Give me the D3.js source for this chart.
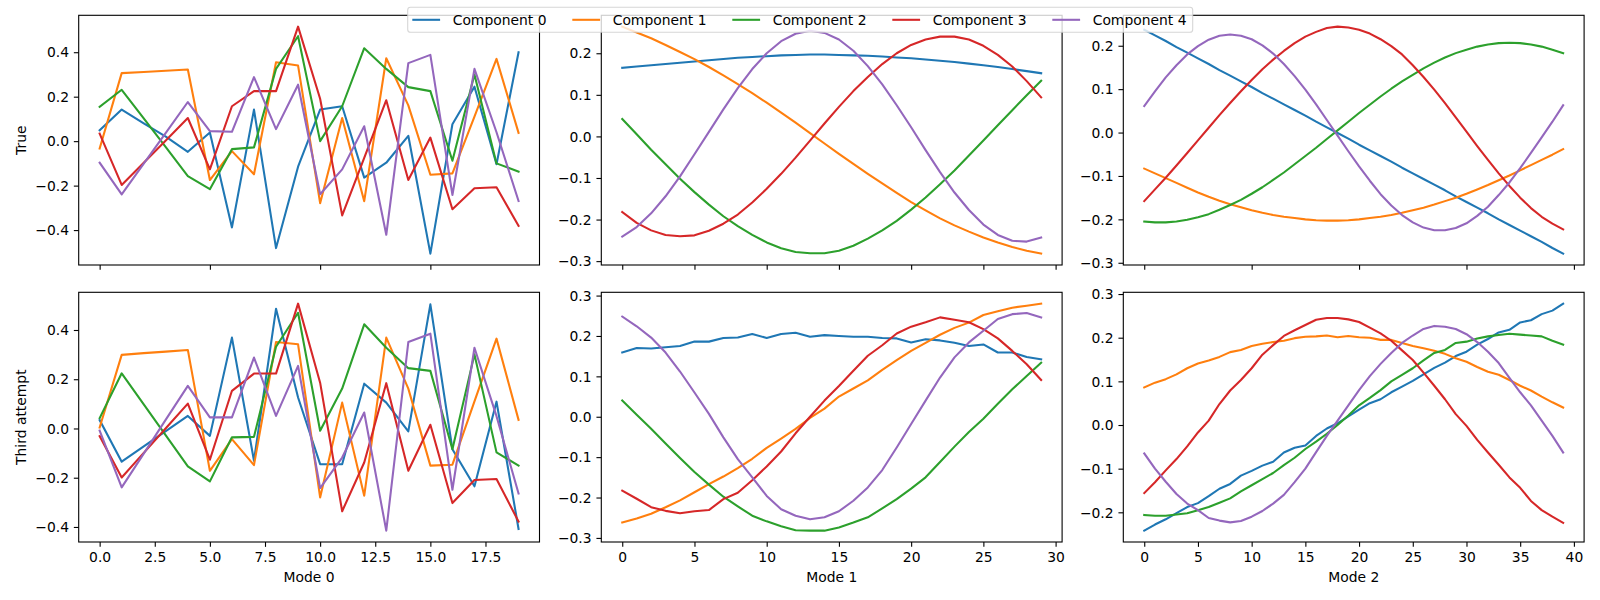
<!DOCTYPE html>
<html>
<head>
<meta charset="utf-8">
<script src="https://d3js.org/d3.v7.min.js"></script>
<style>
  body { margin: 0; background: #fff; }
  svg { display: block; }
</style>
</head>
<body>
<svg id="chart" width="1600" height="600"></svg>
<script>
const components = ["Component 0", "Component 1", "Component 2", "Component 3", "Component 4"];
const colors = ["#1f77b4", "#ff7f0e", "#2ca02c", "#d62728", "#9467bd"];
const rowLabels = ["True", "Third attempt"];
const colLabels = ["Mode 0", "Mode 1", "Mode 2"];

// one list per component
const trueMode0 = [
  [0.049, 0.142, 0.08, 0.02, -0.048, 0.039, -0.388, 0.142, -0.481, -0.115, 0.142, 0.157, -0.164, -0.097, 0.024, -0.506, 0.076, 0.245, -0.104, 0.400],
  [-0.033, 0.306, 0.311, 0.317, 0.322, -0.175, -0.045, -0.149, 0.355, 0.340, -0.279, 0.104, -0.270, 0.373, 0.161, -0.151, -0.145, 0.11, 0.370, 0.037],
  [0.154, 0.231, 0.102, -0.027, -0.157, -0.216, -0.036, -0.028, 0.325, 0.472, 0.0, 0.157, 0.418, 0.325, 0.243, 0.225, -0.088, 0.300, -0.100, -0.137],
  [0.034, -0.197, -0.097, 0.003, 0.104, -0.127, 0.157, 0.225, 0.225, 0.515, 0.191, -0.334, -0.075, 0.184, -0.175, 0.016, -0.306, -0.212, -0.207, -0.381],
  [-0.097, -0.239, -0.101, 0.037, 0.176, 0.045, 0.042, 0.288, 0.054, 0.254, -0.239, -0.127, 0.067, -0.421, 0.351, 0.388, -0.242, 0.325, 0.04, -0.269]
];
const thirdMode0 = [
  [0.034, -0.135, -0.073, -0.011, 0.051, -0.030, 0.369, -0.131, 0.486, 0.126, -0.145, -0.145, 0.182, 0.105, -0.012, 0.504, -0.084, -0.235, 0.109, -0.408],
  [0.004, 0.299, 0.306, 0.312, 0.319, -0.172, -0.043, -0.149, 0.351, 0.342, -0.280, 0.105, -0.273, 0.369, 0.162, -0.151, -0.147, 0.11, 0.365, 0.035],
  [0.042, 0.224, 0.098, -0.028, -0.154, -0.215, -0.036, -0.034, 0.332, 0.470, -0.009, 0.162, 0.423, 0.328, 0.245, 0.234, -0.084, 0.301, -0.097, -0.151],
  [-0.031, -0.199, -0.099, 0.001, 0.101, -0.127, 0.153, 0.223, 0.223, 0.507, 0.186, -0.336, -0.138, 0.184, -0.172, 0.015, -0.303, -0.209, -0.205, -0.378],
  [-0.009, -0.239, -0.102, 0.036, 0.173, 0.045, 0.045, 0.288, 0.051, 0.254, -0.242, -0.118, 0.065, -0.415, 0.351, 0.385, -0.249, 0.328, 0.05, -0.264]
];
const trueMode1 = [
  [0.165, 0.168, 0.171, 0.174, 0.177, 0.180, 0.183, 0.186, 0.189, 0.191, 0.193, 0.195, 0.196, 0.197, 0.197, 0.196, 0.195, 0.194, 0.192, 0.190, 0.188, 0.185, 0.182, 0.179, 0.175, 0.171, 0.167, 0.162, 0.157, 0.152],
  [0.264, 0.250, 0.236, 0.220, 0.203, 0.186, 0.167, 0.147, 0.126, 0.104, 0.081, 0.057, 0.033, 0.008, -0.017, -0.042, -0.066, -0.090, -0.113, -0.136, -0.158, -0.178, -0.197, -0.214, -0.229, -0.243, -0.255, -0.266, -0.275, -0.282],
  [0.042, 0.005, -0.032, -0.067, -0.102, -0.134, -0.164, -0.192, -0.216, -0.237, -0.255, -0.269, -0.278, -0.281, -0.281, -0.275, -0.263, -0.246, -0.226, -0.203, -0.176, -0.147, -0.115, -0.082, -0.046, -0.010, 0.027, 0.063, 0.099, 0.134],
  [-0.182, -0.208, -0.226, -0.237, -0.240, -0.238, -0.227, -0.210, -0.188, -0.159, -0.126, -0.090, -0.051, -0.010, 0.031, 0.071, 0.109, 0.143, 0.174, 0.200, 0.220, 0.233, 0.240, 0.240, 0.233, 0.218, 0.196, 0.168, 0.133, 0.094],
  [-0.241, -0.218, -0.185, -0.144, -0.096, -0.043, 0.011, 0.065, 0.116, 0.162, 0.200, 0.229, 0.247, 0.254, 0.249, 0.233, 0.206, 0.169, 0.125, 0.075, 0.022, -0.033, -0.086, -0.135, -0.177, -0.212, -0.237, -0.251, -0.253, -0.243]
];
const thirdMode1 = [
  [0.159, 0.170, 0.169, 0.172, 0.175, 0.186, 0.186, 0.195, 0.196, 0.205, 0.195, 0.205, 0.208, 0.198, 0.202, 0.200, 0.198, 0.198, 0.195, 0.194, 0.184, 0.192, 0.189, 0.183, 0.175, 0.179, 0.159, 0.159, 0.148, 0.142],
  [-0.262, -0.252, -0.240, -0.224, -0.207, -0.187, -0.167, -0.148, -0.127, -0.104, -0.077, -0.054, -0.030, -0.003, 0.020, 0.050, 0.070, 0.090, 0.116, 0.140, 0.163, 0.183, 0.203, 0.220, 0.233, 0.252, 0.261, 0.270, 0.275, 0.280],
  [0.040, 0.005, -0.030, -0.066, -0.102, -0.137, -0.168, -0.198, -0.222, -0.245, -0.259, -0.271, -0.281, -0.282, -0.282, -0.274, -0.262, -0.249, -0.227, -0.204, -0.178, -0.150, -0.112, -0.074, -0.038, -0.005, 0.032, 0.068, 0.101, 0.134],
  [-0.183, -0.203, -0.224, -0.233, -0.239, -0.234, -0.231, -0.204, -0.188, -0.157, -0.123, -0.086, -0.041, 0.000, 0.040, 0.076, 0.114, 0.151, 0.177, 0.206, 0.223, 0.234, 0.246, 0.240, 0.234, 0.217, 0.194, 0.163, 0.130, 0.091],
  [0.248, 0.224, 0.196, 0.159, 0.112, 0.060, 0.007, -0.051, -0.105, -0.150, -0.196, -0.229, -0.245, -0.254, -0.249, -0.234, -0.208, -0.175, -0.132, -0.076, -0.018, 0.040, 0.097, 0.147, 0.184, 0.213, 0.242, 0.254, 0.257, 0.246]
];
const trueMode2 = [
  [0.237, 0.224, 0.211, 0.197, 0.184, 0.171, 0.158, 0.144, 0.131, 0.118, 0.105, 0.091, 0.078, 0.065, 0.052, 0.039, 0.025, 0.012, -0.001, -0.014, -0.028, -0.041, -0.054, -0.067, -0.081, -0.094, -0.107, -0.120, -0.133, -0.147, -0.160, -0.173, -0.186, -0.200, -0.213, -0.226, -0.239, -0.252, -0.266, -0.279],
  [-0.083, -0.094, -0.105, -0.116, -0.127, -0.138, -0.148, -0.157, -0.165, -0.172, -0.179, -0.185, -0.190, -0.194, -0.197, -0.200, -0.202, -0.203, -0.203, -0.202, -0.200, -0.197, -0.194, -0.190, -0.185, -0.179, -0.173, -0.166, -0.158, -0.150, -0.141, -0.131, -0.121, -0.110, -0.099, -0.087, -0.075, -0.063, -0.051, -0.038],
  [-0.205, -0.207, -0.207, -0.205, -0.201, -0.195, -0.188, -0.178, -0.167, -0.155, -0.141, -0.126, -0.109, -0.092, -0.073, -0.054, -0.035, -0.015, 0.005, 0.025, 0.045, 0.064, 0.083, 0.101, 0.118, 0.133, 0.148, 0.161, 0.173, 0.183, 0.191, 0.198, 0.203, 0.206, 0.207, 0.206, 0.203, 0.198, 0.191, 0.183],
  [-0.158, -0.131, -0.104, -0.076, -0.047, -0.018, 0.011, 0.040, 0.068, 0.095, 0.121, 0.146, 0.168, 0.188, 0.206, 0.221, 0.232, 0.241, 0.244, 0.242, 0.237, 0.228, 0.215, 0.199, 0.180, 0.155, 0.128, 0.099, 0.068, 0.035, 0.002, -0.031, -0.063, -0.094, -0.123, -0.150, -0.174, -0.194, -0.210, -0.223],
  [0.061, 0.095, 0.127, 0.155, 0.180, 0.199, 0.214, 0.223, 0.226, 0.223, 0.215, 0.201, 0.182, 0.158, 0.130, 0.099, 0.065, 0.029, -0.007, -0.043, -0.078, -0.111, -0.142, -0.168, -0.190, -0.207, -0.219, -0.225, -0.225, -0.220, -0.209, -0.192, -0.171, -0.144, -0.115, -0.082, -0.047, -0.011, 0.025, 0.063]
];
const thirdMode2 = [
  [-0.242, -0.228, -0.216, -0.202, -0.188, -0.179, -0.163, -0.146, -0.135, -0.116, -0.105, -0.093, -0.084, -0.063, -0.052, -0.047, -0.025, -0.008, 0.004, 0.020, 0.035, 0.050, 0.059, 0.075, 0.088, 0.101, 0.116, 0.131, 0.143, 0.158, 0.168, 0.184, 0.197, 0.212, 0.218, 0.235, 0.240, 0.254, 0.262, 0.278],
  [0.086, 0.097, 0.105, 0.116, 0.130, 0.141, 0.148, 0.156, 0.167, 0.172, 0.181, 0.186, 0.190, 0.193, 0.199, 0.202, 0.203, 0.205, 0.201, 0.204, 0.201, 0.200, 0.195, 0.195, 0.188, 0.181, 0.176, 0.170, 0.163, 0.153, 0.145, 0.133, 0.122, 0.115, 0.103, 0.090, 0.079, 0.065, 0.052, 0.040],
  [-0.206, -0.208, -0.208, -0.205, -0.202, -0.195, -0.188, -0.178, -0.168, -0.152, -0.138, -0.124, -0.110, -0.092, -0.075, -0.055, -0.038, -0.020, 0.000, 0.022, 0.045, 0.062, 0.080, 0.100, 0.115, 0.130, 0.148, 0.165, 0.172, 0.188, 0.191, 0.198, 0.203, 0.206, 0.209, 0.207, 0.205, 0.203, 0.193, 0.184],
  [-0.156, -0.131, -0.104, -0.078, -0.049, -0.017, 0.010, 0.048, 0.079, 0.103, 0.130, 0.161, 0.183, 0.204, 0.217, 0.229, 0.241, 0.245, 0.245, 0.242, 0.236, 0.223, 0.210, 0.193, 0.171, 0.149, 0.120, 0.090, 0.059, 0.025, -0.002, -0.034, -0.063, -0.091, -0.120, -0.144, -0.174, -0.195, -0.210, -0.224],
  [-0.065, -0.100, -0.130, -0.158, -0.180, -0.195, -0.213, -0.219, -0.223, -0.220, -0.210, -0.197, -0.180, -0.160, -0.131, -0.100, -0.062, -0.025, 0.010, 0.045, 0.080, 0.112, 0.140, 0.165, 0.188, 0.205, 0.220, 0.227, 0.225, 0.220, 0.208, 0.190, 0.168, 0.142, 0.108, 0.075, 0.045, 0.010, -0.025, -0.063]
];

// tick values per panel [row][col]
const xTicks = [
  [[0, 5, 10, 15], [0, 5, 10, 15, 20, 25, 30], [0, 10, 20, 30, 40]],
  [[0, 2.5, 5, 7.5, 10, 12.5, 15, 17.5], [0, 5, 10, 15, 20, 25, 30], [0, 5, 10, 15, 20, 25, 30, 35, 40]]
];
const yTicks = [
  [[-0.4, -0.2, 0, 0.2, 0.4], [-0.3, -0.2, -0.1, 0, 0.1, 0.2], [-0.3, -0.2, -0.1, 0, 0.1, 0.2]],
  [[-0.4, -0.2, 0, 0.2, 0.4], [-0.3, -0.2, -0.1, 0, 0.1, 0.2, 0.3], [-0.2, -0.1, 0, 0.1, 0.2, 0.3]]
];

const grid = [[trueMode0, trueMode1, trueMode2], [thirdMode0, thirdMode1, thirdMode2]];

const font = "DejaVu Sans";
const fs = 13.89;
const colLeft = [78.7, 601.3, 1123.3], axW = 460.8;
const rowTop = [15.3, 292.3], axH = 249.7;
const tickLen = 4.86, tickPad = 4.86;

const svg = d3.select("#chart");
svg.append("rect").attr("width", 1600).attr("height", 600).attr("fill", "#fff");

grid.forEach(function(row, r) {
  row.forEach(function(series, c) {
    var n = series[0].length;
    var left = colLeft[c], top = rowTop[r];
    var x = d3.scaleLinear()
        .domain([-(n - 1) * 0.05, (n - 1) * 1.05])
        .range([left, left + axW]);
    var all = [].concat.apply([], series);
    var lo = d3.min(all), hi = d3.max(all), pad = (hi - lo) * 0.05;
    var y = d3.scaleLinear()
        .domain([lo - pad, hi + pad])
        .range([top + axH, top]);

    var g = svg.append("g");
    var line = d3.line()
        .x(function(d, i) { return x(i); })
        .y(function(d) { return y(d); });

    g.selectAll("path.series")
      .data(series)
      .enter().append("path")
        .attr("class", "series")
        .attr("d", line)
        .attr("fill", "none")
        .attr("stroke", function(d, i) { return colors[i]; })
        .attr("stroke-width", 2.08)
        .attr("stroke-linejoin", "round")
        .attr("stroke-linecap", "square");

    // axes
    var fmtX = (r == 1 && c == 0) ? d3.format(".1f") : d3.format("d");
    var xAxis = d3.axisBottom(x)
        .tickValues(xTicks[r][c])
        .tickSize(tickLen)
        .tickPadding(tickPad)
        .tickFormat(r == 0 ? function() { return ""; } : fmtX);
    var yAxis = d3.axisLeft(y)
        .tickValues(yTicks[r][c])
        .tickSize(tickLen)
        .tickPadding(tickPad)
        .tickFormat(d3.format(".1f"));

    var gx = g.append("g")
        .attr("transform", "translate(0," + (top + axH) + ")")
        .call(xAxis);
    var gy = g.append("g")
        .attr("transform", "translate(" + left + ",0)")
        .call(yAxis);

    [gx, gy].forEach(function(a) {
      a.select(".domain").remove();
      a.attr("font-family", font).attr("font-size", fs);
      a.selectAll(".tick line").attr("stroke", "#000").attr("stroke-width", 1.1);
      a.selectAll(".tick text").attr("fill", "#000");
    });
    gx.selectAll(".tick text").attr("dy", "0.76em");
    gy.selectAll(".tick text").attr("dy", "0.34em");

    // spines
    g.append("rect")
        .attr("x", left).attr("y", top)
        .attr("width", axW).attr("height", axH)
        .attr("fill", "none")
        .attr("stroke", "#000")
        .attr("stroke-width", 1.1);

    if (r == 1) {
      g.append("text")
          .attr("x", left + axW / 2)
          .attr("y", 581.7)
          .attr("text-anchor", "middle")
          .attr("font-family", font)
          .attr("font-size", fs)
          .text(colLabels[c]);
    }
    if (c == 0) {
      g.append("text")
          .attr("transform", "translate(26," + (top + axH / 2) + ") rotate(-90)")
          .attr("text-anchor", "middle")
          .attr("font-family", font)
          .attr("font-size", fs)
          .text(rowLabels[r]);
    }
  });
});

// figure legend
var lg = svg.append("g");
lg.append("rect")
    .attr("x", 407.7).attr("y", 7.3)
    .attr("width", 785).attr("height", 25)
    .attr("rx", 2.8)
    .attr("fill", "#fff").attr("fill-opacity", 0.8)
    .attr("stroke", "#cccccc").attr("stroke-opacity", 0.8)
    .attr("stroke-width", 1.1);

var item = lg.selectAll("g.item")
  .data(components)
  .enter().append("g")
    .attr("class", "item")
    .attr("transform", function(d, i) { return "translate(" + (412.3 + 160 * i) + ",19.8)"; });
item.append("line")
    .attr("x1", 0).attr("x2", 27.8)
    .attr("stroke", function(d, i) { return colors[i]; })
    .attr("stroke-width", 2.08);
item.append("text")
    .attr("x", 40.4)
    .attr("dy", "0.36em")
    .attr("font-family", font)
    .attr("font-size", fs)
    .text(function(d) { return d; });
</script>
</body>
</html>
